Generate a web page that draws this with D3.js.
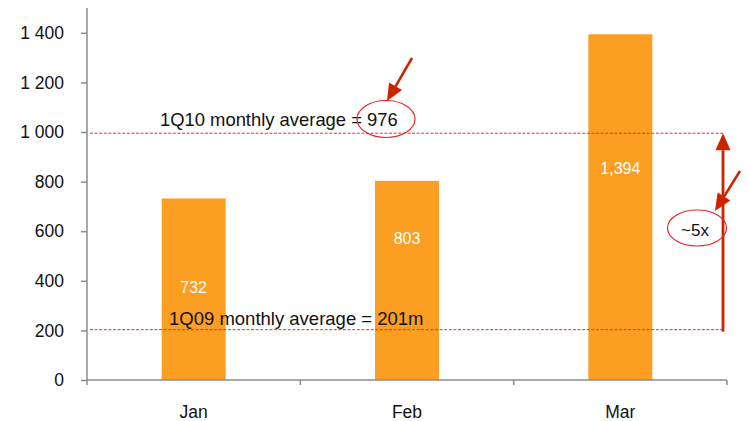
<!DOCTYPE html>
<html>
<head>
<meta charset="utf-8">
<script src="https://cdn.jsdelivr.net/npm/d3@7"></script>
<style>
  body { margin: 0; background: #fff; }
  svg { display: block; }
  text { font-family: "Liberation Sans", Arial, sans-serif; }
</style>
</head>
<body>
<svg id="chart" width="748" height="421"></svg>
<script>
const months = ["Jan", "Feb", "Mar"];
const values = [732, 803, 1394];
const valueLabels = ["732", "803", "1,394"];
const labelLevels = [350, 550, 830];
const yTicks = [0, 200, 400, 600, 800, 1000, 1200, 1400];
const avg1Q09 = 203;
const avg1Q10 = 995;
const note1Q09 = "1Q09 monthly average = 201m";
const note1Q10Prefix = "1Q10 monthly average = ";
const note1Q10Value = "976";
const multipleLabel = "~5x";

const svg = d3.select("#chart");
const x = d3.scaleBand().domain(months).range([87, 727]).padding(0);
const y = d3.scaleLinear().domain([0, 1500]).range([380, 8]);

const orange = "#FB9E21";
const dashRed = "#E3341F";
const arrowRed = "#CC2200";
const axisColor = "#8C8C8C";
const fmt = d => d3.format(",")(d).replace(/,/g, " ");

// y axis
const yAxis = svg.append("g").attr("transform", "translate(87,0)")
  .call(d3.axisLeft(y).tickValues(yTicks).tickFormat(fmt).tickSize(6).tickPadding(17));
yAxis.select(".domain").attr("stroke", axisColor).attr("stroke-width", 1.5).attr("d", `M0,${y(1500)}V${y(0)}`);
yAxis.selectAll(".tick line").attr("stroke", axisColor).attr("stroke-width", 1.5);
yAxis.selectAll(".tick text").attr("fill", "#111").style("font-size", "17.5px")
  .style("font-family", '"Liberation Sans", Arial, sans-serif');

// bars
const bw = x.bandwidth() * 0.3;
svg.selectAll("rect.bar").data(values).enter().append("rect")
  .attr("class", "bar")
  .attr("x", (d, i) => x(months[i]) + x.bandwidth() / 2 - bw / 2)
  .attr("y", d => y(d))
  .attr("width", bw)
  .attr("height", d => y(0) - y(d))
  .attr("fill", orange);

// x axis
const xAxisG = svg.append("g").attr("transform", `translate(0,${y(0)})`);
xAxisG.append("line").attr("x1", 87).attr("x2", 727).attr("stroke", axisColor).attr("stroke-width", 1.5);
const bounds = months.map(m => x(m)).concat([x(months[months.length - 1]) + x.bandwidth()]);
xAxisG.selectAll("line.tk").data(bounds).enter().append("line")
  .attr("class", "tk").attr("x1", d => d).attr("x2", d => d).attr("y1", 0).attr("y2", 5)
  .attr("stroke", axisColor).attr("stroke-width", 1.5);
xAxisG.selectAll("text").data(months).enter().append("text")
  .attr("x", d => x(d) + x.bandwidth() / 2).attr("y", 38)
  .attr("text-anchor", "middle").attr("fill", "#111").style("font-size", "17.5px").text(d => d);

// bar value labels
svg.selectAll("text.vl").data(valueLabels).enter().append("text")
  .attr("class", "vl")
  .attr("x", (d, i) => x(months[i]) + x.bandwidth() / 2)
  .attr("y", (d, i) => y(labelLevels[i]))
  .attr("text-anchor", "middle").attr("fill", "#fff").style("font-size", "16px").text(d => d);

// average lines
[avg1Q10, avg1Q09].forEach(v => {
  svg.append("line").attr("x1", 90).attr("x2", 724).attr("y1", y(v)).attr("y2", y(v))
    .attr("stroke", dashRed).attr("stroke-width", 1).attr("stroke-dasharray", "3,1.6");
});

// annotation texts
const t10 = svg.append("text").attr("x", 160).attr("y", y(avg1Q10) - 7)
  .attr("fill", "#111").style("font-size", "18.4px");
t10.append("tspan").text(note1Q10Prefix);
t10.append("tspan").text(note1Q10Value);
svg.append("text").attr("x", 169).attr("y", y(avg1Q09) - 5)
  .attr("fill", "#111").style("font-size", "18.5px").text(note1Q09);

// ellipse around 976
svg.append("ellipse").attr("cx", 386).attr("cy", 119).attr("rx", 29).attr("ry", 18.5)
  .attr("fill", "none").attr("stroke", "#E8262A").attr("stroke-width", 1.2);

function arrow(x1, y1, x2, y2, headLen, headW, sw) {
  const ang = Math.atan2(y2 - y1, x2 - x1);
  const bx = x2 - headLen * Math.cos(ang), by = y2 - headLen * Math.sin(ang);
  svg.append("line").attr("x1", x1).attr("y1", y1).attr("x2", bx).attr("y2", by)
    .attr("stroke", arrowRed).attr("stroke-width", sw);
  const px = -Math.sin(ang) * headW / 2, py = Math.cos(ang) * headW / 2;
  svg.append("path").attr("d", `M${x2},${y2}L${bx + px},${by + py}L${bx - px},${by - py}Z`)
    .attr("fill", arrowRed);
}
arrow(412, 58, 387, 101, 17, 15, 2.5);
arrow(723, y(avg1Q09) + 2, 723, y(avg1Q10), 17, 15, 2.8);
arrow(740, 171, 715, 211, 17, 15, 2.5);

svg.append("ellipse").attr("cx", 697).attr("cy", 228).attr("rx", 29.5).attr("ry", 18)
  .attr("fill", "none").attr("stroke", "#E8262A").attr("stroke-width", 1.2);
svg.append("text").attr("x", 695).attr("y", 236).attr("text-anchor", "middle")
  .attr("fill", "#111").style("font-size", "17px").text(multipleLabel);
</script>
</body>
</html>
